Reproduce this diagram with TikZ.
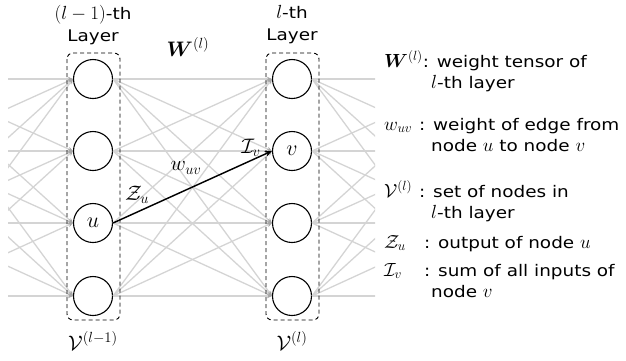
\RequirePackage{fix-cm}
\documentclass[tikz,border=0pt]{standalone}
\usepackage{amsmath}
\usepackage{bm}
\usepackage{fontspec}
\setmainfont{DejaVu Sans}[FakeStretch=1.15]
\usetikzlibrary{arrows.meta}
\newcommand{\mm}[1]{{\fontsize{19}{22}\selectfont$#1$}}
\begin{document}
\begin{tikzpicture}[x=1pt,y=-1pt,
  neuron/.style={circle,draw,line width=1.1pt,minimum size=39pt,inner sep=0pt,font=\fontsize{22}{26}\selectfont},
  ghost/.style={circle,minimum size=39pt,inner sep=0pt},
  conn/.style={draw=black!17,line width=1.3pt,-{Stealth[length=5pt,width=4.5pt,color=black!35]}},
  hot/.style={draw=black,line width=1.4pt,-{Stealth[length=7pt,width=6pt]}},
  layerbox/.style={draw,dash pattern=on 4pt off 3pt,rounded corners=6pt,line width=0.9pt},
  lbl/.style={font=\fontsize{16}{22}\selectfont,inner sep=0pt},
  big/.style={font=\fontsize{21}{24}\selectfont,inner sep=0pt},
  key/.style={lbl,anchor=base west}]
\useasboundingbox (0,0) rectangle (626,360);
\foreach \i/\y in {1/79,2/151,3/223,4/296}{
  \node[ghost] (p\i) at (-106,\y) {};
  \node[ghost] (n\i) at (491,\y) {};
}
\node[neuron] (a1) at (93,79) {};
\node[neuron] (a2) at (93,151) {};
\node[neuron] (a3) at (93,223) {$u$};
\node[neuron] (a4) at (93,296) {};
\node[neuron] (b1) at (292,79) {};
\node[neuron] (b2) at (292,151) {$v$};
\node[neuron] (b3) at (292,223) {};
\node[neuron] (b4) at (292,296) {};
\begin{scope}
  \clip (8,0) rectangle (375,360);
  \foreach \i in {1,...,4}{
    \foreach \j in {1,...,4}{
      \draw[conn] (p\i.east) -- (a\j.west);
      \draw[conn] (a\i.east) -- (b\j.west);
      \draw[conn] (b\i.east) -- (n\j.west);
    }
  }
\end{scope}
\draw[layerbox] (67,53) rectangle (120,320);
\draw[layerbox] (266,53) rectangle (319,320);
\draw[hot] (a3.east) -- (b2.west);
% labels
\node[lbl,align=center] (t1) at (93,25) {\mm{(l-1)}-th\\Layer};
\node[lbl,align=center] (t2) at (292,25) {\mm{l}-th\\Layer};
\node[big] (wl) at (188,47) {$\bm{W}^{(l)}$};
\node[big] (zu) at (137,195) {$\mathcal{Z}_u$};
\node[big] (wuv) at (186,168) {$w_{uv}$};
\node[big] (iv) at (251,148) {$\mathcal{I}_v$};
\node[big] (v1) at (93,341) {$\mathcal{V}^{(l-1)}$};
\node[big] (v2) at (292,341) {$\mathcal{V}^{(l)}$};
% legend
\node[key] (k1) at (384,67) {\mm{\bm{W}^{(l)}}: weight tensor of};
\node[key] (k1b) at (431,88) {\mm{l}-th layer};
\node[key] (k2) at (384,130) {\mm{w_{uv}}};
\node[key] (k2t) at (419,130) {: weight of edge from};
\node[key] (k2b) at (431,151) {node \mm{u} to node \mm{v}};
\node[key] (k3) at (384,197) {\mm{\mathcal{V}^{(l)}}};
\node[key] (k3t) at (419,197) {: set of nodes in};
\node[key] (k3b) at (431,218) {\mm{l}-th layer};
\node[key] (k4) at (384,248) {\mm{\mathcal{Z}_u}};
\node[key] (k4t) at (424,248) {: output of node \mm{u}};
\node[key] (k5) at (384,276) {\mm{\mathcal{I}_v}};
\node[key] (k5t) at (424,276) {: sum of all inputs of};
\node[key] (k5b) at (431,297) {node \mm{v}};
\end{tikzpicture}
\end{document}
